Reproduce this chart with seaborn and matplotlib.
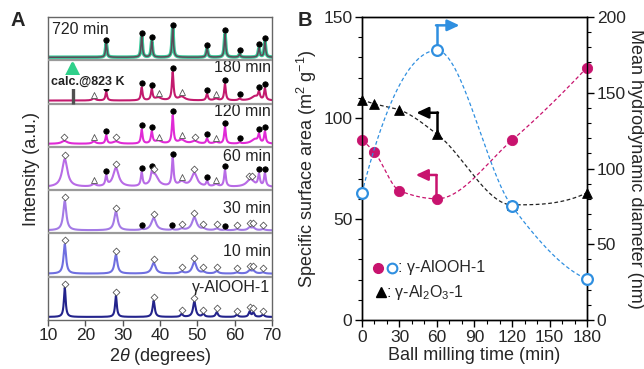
import numpy as np
import pandas as pd
import matplotlib
matplotlib.use("Agg")
import matplotlib.pyplot as plt
from matplotlib.ticker import MultipleLocator
import seaborn as sns

# ---------------- data: panel A (XRD peaks: position, relative height, half width) -------------
ALOOH_POS = [14.5, 28.2, 38.3, 45.8, 49.2, 51.6, 55.2, 60.6, 64.0, 65.0, 67.6]
ALOOH_H = [1.0, 0.72, 0.55, 0.10, 0.52, 0.10, 0.16, 0.08, 0.18, 0.14, 0.08]
ALOOH_W = [0.28, 0.28, 0.34, 0.35, 0.42, 0.35, 0.35, 0.35, 0.32, 0.32, 0.4]

M10_POS = [14.5, 28.2, 38.3, 45.8, 49.2, 51.6, 55.2, 60.6, 64.0, 65.0, 67.6]
M10_H = [1.0, 0.64, 0.36, 0.06, 0.40, 0.05, 0.08, 0.04, 0.10, 0.09, 0.04]
M10_W = [0.4, 0.46, 0.65, 0.55, 0.65, 0.55, 0.55, 0.55, 0.55, 0.55, 0.55]

M30_POS = [14.5, 28.2, 35.1, 38.3, 43.3, 45.8, 49.2, 51.6, 55.2, 57.4, 60.6, 64.0, 65.0, 67.6]
M30_H = [1.0, 0.64, 0.03, 0.42, 0.03, 0.05, 0.44, 0.05, 0.06, 0.02, 0.04, 0.09, 0.08, 0.04]
M30_W = [0.5, 0.55, 0.35, 0.75, 0.35, 0.55, 0.75, 0.55, 0.55, 0.35, 0.55, 0.55, 0.55, 0.55]

M60_POS = [14.5, 22.3, 25.6, 28.2, 35.1, 37.8, 38.6, 43.4, 45.8, 49.2, 52.6, 55.0, 57.4, 64.2, 66.5, 68.1]
M60_H = [0.95, 0.08, 0.34, 0.64, 0.46, 0.30, 0.40, 0.95, 0.16, 0.46, 0.18, 0.08, 0.56, 0.26, 0.40, 0.45]
M60_W = [0.85, 0.65, 0.28, 0.9, 0.28, 0.3, 1.1, 0.28, 1.0, 0.9, 0.28, 0.65, 0.28, 1.2, 0.3, 0.28]

M120_POS = [14.4, 22.3, 25.6, 28.2, 35.1, 37.8, 39.5, 43.4, 45.8, 49.3, 52.6, 55.0, 57.4, 61.3, 65.4, 66.5, 68.1]
M120_H = [0.10, 0.08, 0.28, 0.08, 0.48, 0.40, 0.10, 0.95, 0.13, 0.09, 0.17, 0.06, 0.58, 0.04, 0.15, 0.28, 0.40]
M120_W = [0.9, 0.55, 0.26, 0.9, 0.26, 0.28, 1.0, 0.26, 1.0, 0.9, 0.28, 0.65, 0.26, 0.35, 1.1, 0.28, 0.26]

M180_POS = [22.3, 25.6, 35.1, 37.8, 39.5, 43.4, 45.8, 52.6, 55.0, 57.4, 61.3, 65.4, 66.5, 68.1]
M180_H = [0.07, 0.30, 0.44, 0.38, 0.10, 0.95, 0.13, 0.22, 0.06, 0.56, 0.06, 0.14, 0.26, 0.40]
M180_W = [0.55, 0.26, 0.26, 0.26, 1.0, 0.26, 1.0, 0.28, 0.65, 0.26, 0.35, 1.1, 0.28, 0.26]

M720_POS = [25.6, 35.1, 37.8, 43.4, 52.6, 57.4, 61.3, 66.5, 68.1]
M720_H = [0.47, 0.70, 0.54, 0.97, 0.30, 0.78, 0.10, 0.30, 0.52]
M720_W = [0.22, 0.22, 0.22, 0.22, 0.24, 0.22, 0.26, 0.24, 0.22]

# phase markers (dot = alpha-Al2O3, diamond = boehmite, triangle = transition alumina)
BOEHMITE_ALL = [14.5, 28.2, 38.3, 45.8, 49.2, 51.6, 55.2, 60.6, 64.0, 65.0, 67.6]
ALPHA_ALL = [25.6, 35.1, 37.8, 43.4, 52.6, 57.4, 61.3, 66.5, 68.1]
M30_DOTS = [35.1, 43.3, 57.4]
M60_DIAMONDS = [14.5, 28.2, 38.3, 49.2, 63.7, 64.6]
M60_DOTS = [25.6, 35.1, 37.8, 43.4, 52.6, 57.4, 66.5, 68.1]
M60_TRI = [22.3, 45.8, 55.0]
M120_DIAMONDS = [14.4, 28.2, 49.3]
TRI_LATE = [22.3, 39.8, 45.8, 55.0]

LABELS_A = ["γ-AlOOH-1", "10 min", "30 min", "60 min", "120 min", "180 min", "720 min"]
COLORS_A = ["#23238c", "#6f6fe0", "#a47ae6", "#b86be6", "#e02ad6", "#c31a6e", "#3ccc9c"]

# ---------------- data: panel B ----------------
T_AREA = [0, 10, 30, 60, 120, 180]
AREA_ALOOH = [89, 83, 64, 60, 89, 125]
AREA_AL2O3 = [109, 107, 104, 92, 57, 63]
T_DIAM = [0, 60, 120, 180]
DIAM_ALOOH = [84, 178, 75, 27]

# ---------------- style ----------------
sns.set_theme(style="ticks")
plt.rcParams["font.family"] = ["Liberation Sans", "DejaVu Sans"]
plt.rcParams["mathtext.fontset"] = "custom"
plt.rcParams["mathtext.rm"] = "Liberation Sans"
plt.rcParams["mathtext.it"] = "Liberation Sans:italic"
plt.rcParams["axes.linewidth"] = 1.0

fig = plt.figure(figsize=(6.44, 3.69), dpi=100)
axA = fig.add_axes([0.0745, 0.1328, 0.3479, 0.8211])
axB = fig.add_axes([0.5621, 0.1328, 0.3494, 0.8211])

# ---------------- panel A ----------------
x = np.linspace(10, 70, 1500)


def profile(pos, h, w):
    y = np.zeros_like(x)
    for p, hh, ww in zip(pos, h, w):
        y += hh / (1 + ((x - p) / ww) ** 2)
    return y


patterns = [
    (ALOOH_POS, ALOOH_H, ALOOH_W, [], BOEHMITE_ALL, []),
    (M10_POS, M10_H, M10_W, [], BOEHMITE_ALL, []),
    (M30_POS, M30_H, M30_W, M30_DOTS, BOEHMITE_ALL, []),
    (M60_POS, M60_H, M60_W, M60_DOTS, M60_DIAMONDS, M60_TRI),
    (M120_POS, M120_H, M120_W, ALPHA_ALL, M120_DIAMONDS, TRI_LATE),
    (M180_POS, M180_H, M180_W, ALPHA_ALL, [], TRI_LATE),
    (M720_POS, M720_H, M720_W, ALPHA_ALL, [], []),
]

BASE = 0.07
SCALE = 0.68
for i, (pos, h, w, dots, dia, tri) in enumerate(patterns):
    y = i + BASE + SCALE * profile(pos, h, w)
    df = pd.DataFrame({"x": x, "y": y})
    if i == 6:
        sns.lineplot(data=df, x="x", y="y", ax=axA, color=COLORS_A[i], lw=2.6,
                     estimator=None, sort=False)
        sns.lineplot(data=df, x="x", y="y", ax=axA, color="#5b4a58", lw=1.1,
                     estimator=None, sort=False)
    else:
        sns.lineplot(data=df, x="x", y="y", ax=axA, color=COLORS_A[i], lw=1.5,
                     estimator=None, sort=False)
    for plist, mk, fc, ec, s in [(dots, "o", "black", "black", 15),
                                 (dia, "D", "white", "#555555", 12),
                                 (tri, "^", "white", "#555555", 18)]:
        if len(plist):
            py = np.interp(plist, x, y) + 0.09
            sns.scatterplot(x=plist, y=py, ax=axA, marker=mk, s=s, color=fc,
                            edgecolor=ec, linewidth=0.6, zorder=5, legend=False)

for k in range(1, 7):
    axA.axhline(k, color="#9a9a9a", lw=1.6, zorder=4)

label_y = [0.76, 0.58, 0.58, 0.78, 0.82, 0.83, 0.70]
for i, lab in enumerate(LABELS_A):
    if i == 6:
        axA.text(11.2, i + label_y[i], lab, ha="left", va="center", fontsize=11.5, color="#222222")
    else:
        axA.text(69.6, i + label_y[i], lab, ha="right", va="center", fontsize=11.5, color="#222222")

# calc. arrow (shaft hidden behind the label)
axA.plot([16.6, 16.6], [5.0, 5.5], color="#505050", lw=2.4, zorder=6, solid_capstyle="butt")
axA.annotate("", xy=(16.6, 6.0), xytext=(16.6, 5.45),
             arrowprops=dict(arrowstyle="-|>,head_width=0.38,head_length=0.75",
                             color="#2fd08a", lw=2.4, shrinkA=0, shrinkB=0), zorder=6)
axA.text(10.9, 5.5, "calc.@823 K", ha="left", va="center", fontsize=9,
         fontweight="bold", color="#222222", zorder=8,
         bbox=dict(boxstyle="square,pad=0.05", fc="white", ec="none"))

axA.set_xlim(10, 70)
axA.set_ylim(0, 7)
axA.set_yticks([])
axA.xaxis.set_major_locator(MultipleLocator(10))
axA.tick_params(axis="x", direction="out", length=4, width=1, labelsize=12.5, pad=2,
                color="#555555")
for sp in axA.spines.values():
    sp.set_color("#666666")
    sp.set_linewidth(1.0)
axA.set_xlabel("2$\\theta$ (degrees)", fontsize=13, labelpad=2)
axA.set_ylabel("Intensity (a.u.)", fontsize=13, labelpad=6)

# ---------------- panel B ----------------


def pchip(xk, yk, xs):
    xk = np.asarray(xk, float)
    yk = np.asarray(yk, float)
    h = np.diff(xk)
    d = np.diff(yk) / h
    n = len(xk)
    m = np.zeros(n)
    for k in range(1, n - 1):
        if d[k - 1] * d[k] > 0:
            w1 = 2 * h[k] + h[k - 1]
            w2 = h[k] + 2 * h[k - 1]
            m[k] = (w1 + w2) / (w1 / d[k - 1] + w2 / d[k])
    def endslope(h0, h1, d0, d1):
        s = ((2 * h0 + h1) * d0 - h0 * d1) / (h0 + h1)
        if np.sign(s) != np.sign(d0):
            s = 0.0
        elif np.sign(d0) != np.sign(d1) and abs(s) > abs(3 * d0):
            s = 3 * d0
        return s
    m[0] = endslope(h[0], h[1], d[0], d[1])
    m[-1] = endslope(h[-1], h[-2], d[-1], d[-2])
    idx = np.clip(np.searchsorted(xk, xs) - 1, 0, n - 2)
    t = (xs - xk[idx]) / h[idx]
    h00 = 2 * t**3 - 3 * t**2 + 1
    h10 = t**3 - 2 * t**2 + t
    h01 = -2 * t**3 + 3 * t**2
    h11 = t**3 - t**2
    return h00 * yk[idx] + h10 * h[idx] * m[idx] + h01 * yk[idx + 1] + h11 * h[idx] * m[idx + 1]


PINK = "#c8136e"
BLUE = "#2f8fe0"
tt = np.linspace(0, 180, 400)

axB2 = axB.twinx()

sns.lineplot(x=tt, y=pchip(T_AREA, AREA_ALOOH, tt), ax=axB, color=PINK, lw=0.9,
             linestyle=(0, (3, 2)), estimator=None)
sns.lineplot(x=tt, y=pchip(T_AREA, AREA_AL2O3, tt), ax=axB, color="#222222", lw=0.9,
             linestyle=(0, (3, 2)), estimator=None)
sns.lineplot(x=tt, y=pchip(T_DIAM, DIAM_ALOOH, tt), ax=axB2, color=BLUE, lw=0.9,
             linestyle=(0, (3, 2)), estimator=None)

sns.scatterplot(x=T_AREA, y=AREA_ALOOH, ax=axB, s=55, color=PINK, edgecolor=PINK,
                zorder=5, clip_on=False, legend=False)
sns.scatterplot(x=T_AREA, y=AREA_AL2O3, ax=axB, marker="^", s=50, color="black",
                edgecolor="black", zorder=5, clip_on=False, legend=False)
sns.scatterplot(x=T_DIAM, y=DIAM_ALOOH, ax=axB2, s=60, color="white", edgecolor=BLUE,
                linewidth=1.6, zorder=5, clip_on=False, legend=False)

# pointer arrows (which axis each series belongs to)
axB.plot([60, 60], [93.5, 102.8], color="black", lw=1.8, zorder=6)
axB.annotate("", xy=(43.5, 102.6), xytext=(60.8, 102.6),
             arrowprops=dict(arrowstyle="-|>,head_width=0.28,head_length=0.6",
                             color="black", lw=1.8, shrinkA=0, shrinkB=0), zorder=6)
axB.plot([59, 59], [61, 72], color=PINK, lw=1.8, zorder=6)
axB.annotate("", xy=(43, 71.8), xytext=(59.8, 71.8),
             arrowprops=dict(arrowstyle="-|>,head_width=0.28,head_length=0.6",
                             color=PINK, lw=1.8, shrinkA=0, shrinkB=0), zorder=6)
axB2.plot([60, 60], [182, 195], color=BLUE, lw=1.8, zorder=6)
axB2.annotate("", xy=(78, 194.5), xytext=(59.2, 194.5),
              arrowprops=dict(arrowstyle="-|>,head_width=0.28,head_length=0.6",
                              color=BLUE, lw=1.8, shrinkA=0, shrinkB=0), zorder=6)

# legend drawn as text
axB.plot([0.072], [0.172], marker="o", ms=7, color=PINK, transform=axB.transAxes, zorder=7)
axB.plot([0.132], [0.172], marker="o", ms=7, mfc="white", mec=BLUE, mew=1.5,
         transform=axB.transAxes, zorder=7)
axB.text(0.16, 0.172, ": γ-AlOOH-1", transform=axB.transAxes, ha="left", va="center",
         fontsize=11.5)
axB.plot([0.083], [0.092], marker="^", ms=6.5, color="black", transform=axB.transAxes, zorder=7)
axB.text(0.108, 0.092, ": γ-Al$_2$O$_3$-1", transform=axB.transAxes, ha="left", va="center",
         fontsize=11.5)

axB.set_xlim(0, 180)
axB.set_ylim(0, 150)
axB2.set_ylim(0, 200)
axB.xaxis.set_major_locator(MultipleLocator(30))
axB.xaxis.set_minor_locator(MultipleLocator(10))
axB.yaxis.set_major_locator(MultipleLocator(50))
axB.yaxis.set_minor_locator(MultipleLocator(10))
axB2.yaxis.set_major_locator(MultipleLocator(50))
axB2.yaxis.set_minor_locator(MultipleLocator(10))
for a in (axB, axB2):
    a.tick_params(which="major", direction="out", length=5, width=1, labelsize=12.5, pad=2,
                  color="black")
    a.tick_params(which="minor", direction="out", length=3, width=0.8, color="black")
    for sp in a.spines.values():
        sp.set_color("black")
        sp.set_linewidth(1.0)
axB.set_xlabel("Ball milling time (min)", fontsize=13, labelpad=2)
axB.set_ylabel("Specific surface area (m$^2$ g$^{-1}$)", fontsize=13, labelpad=3)
axB2.set_ylabel("Mean hydrodynamic diameter (nm)", fontsize=13, rotation=270, labelpad=13)
axB2.set_xlabel("")

fig.text(0.017, 0.945, "A", fontsize=14.5, fontweight="bold", ha="left", va="center")
fig.text(0.462, 0.945, "B", fontsize=14.5, fontweight="bold", ha="left", va="center")

fig.savefig("out.png", dpi=100)
